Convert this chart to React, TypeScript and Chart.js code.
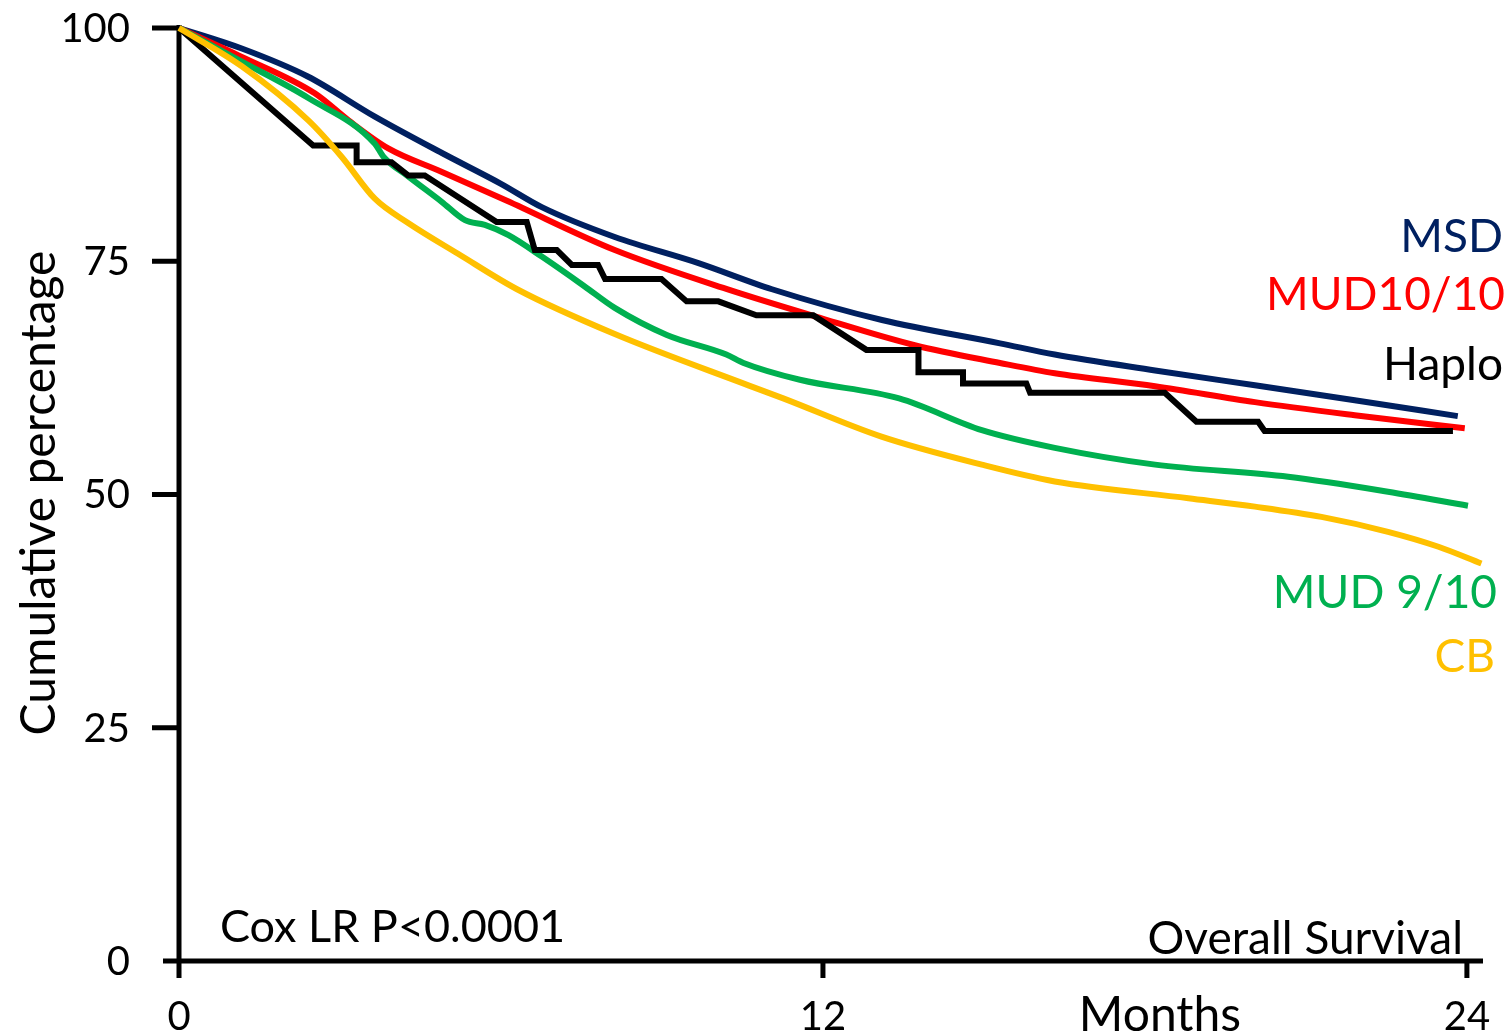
import { useEffect, useRef } from "react";
import { Chart, registerables } from "chart.js";

Chart.register(...registerables);

// Overall survival by donor type (months vs cumulative percentage)
const msdMonths = [0, 1.17, 2.4, 3.65, 4.9, 6.0, 6.76, 8.12, 9.68, 11.05, 13.1, 15.3, 16.32, 18.19, 20.05, 21.91, 23.83];
const msdSurvival = [100, 97.8, 94.8, 90.5, 86.6, 83.3, 80.8, 77.6, 74.8, 72.0, 68.7, 66.2, 65.0, 63.3, 61.7, 60.1, 58.4];

const mud10Months = [0, 1.17, 2.53, 3.16, 3.9, 4.89, 6.1, 8.12, 10.27, 11.85, 13.71, 15.3, 16.32, 18.19, 20.05, 21.91, 23.96];
const mud10Survival = [100, 96.9, 93.0, 90.1, 87.1, 84.6, 81.5, 76.2, 71.9, 69.1, 66.0, 64.1, 63.0, 61.6, 59.9, 58.5, 57.1];

const haploMonths = [0, 2.5, 3.31, 3.31, 3.96, 4.27, 4.58, 5.92, 6.48, 6.63, 7.04, 7.32, 7.81, 7.94, 8.99, 9.46, 10.05, 10.76, 11.82, 12.81, 13.78, 13.78, 14.61, 14.61, 15.79, 15.86, 18.37, 18.96, 20.11, 20.23, 23.74];
const haploSurvival = [100, 87.4, 87.4, 85.6, 85.6, 84.2, 84.2, 79.2, 79.2, 76.2, 76.2, 74.6, 74.6, 73.1, 73.1, 70.7, 70.7, 69.2, 69.2, 65.5, 65.5, 63.1, 63.1, 61.9, 61.9, 60.9, 60.9, 57.8, 57.8, 56.8, 56.8];

const mud9Months = [0, 1.17, 2.41, 3.65, 3.81, 4.27, 4.89, 5.33, 5.7, 6.14, 6.76, 7.56, 8.12, 9.09, 10.2, 10.52, 11.57, 13.42, 14.96, 16.32, 18.19, 20.67, 22.53, 24.02];
const mud9Survival = [100, 96.4, 92.5, 87.6, 86.2, 84.1, 81.4, 79.4, 78.9, 77.8, 75.5, 72.3, 70.0, 67.1, 65.0, 64.1, 62.3, 60.3, 56.9, 55.0, 53.2, 51.9, 50.3, 48.8];

const cbMonths = [0, 1.17, 2.41, 3.03, 3.65, 4.27, 5.2, 6.3, 8.12, 10.61, 11.26, 13.09, 14.96, 16.32, 18.81, 20.05, 21.29, 22.53, 23.47, 24.27];
const cbSurvival = [100, 95.9, 90.1, 86.2, 81.7, 79.1, 75.8, 72.0, 67.2, 61.7, 60.3, 56.2, 53.2, 51.4, 49.6, 48.7, 47.6, 46.0, 44.4, 42.6];

const yTickValues = [0, 25, 50, 75, 100];
const xTickValues = [0, 12, 24];
const seriesLabels = ["MSD", "MUD10/10", "Haplo", "MUD 9/10", "CB"];
const seriesColors = ["#002060", "#FF0000", "#000000", "#00B050", "#FFC000"];

const FONT = "Lato, 'Open Sans', sans-serif";

const toPoints = (xs: number[], ys: number[]) => xs.map((x, i) => ({ x, y: ys[i] }));

const axesPlugin = {
  id: "kmAxes",
  beforeDatasetsDraw(chart: any) {
    const { ctx, scales } = chart;
    const xs = scales.x;
    const ys = scales.y;
    const x0 = xs.getPixelForValue(0);
    const y0 = ys.getPixelForValue(0);
    const yTop = ys.getPixelForValue(100);
    ctx.save();
    ctx.strokeStyle = "#000";
    ctx.lineWidth = 5;
    ctx.lineCap = "butt";
    ctx.beginPath();
    ctx.moveTo(x0, yTop - 3);
    ctx.lineTo(x0, y0 + 17);
    ctx.moveTo(x0 - 16, y0);
    ctx.lineTo(chart.chartArea.right, y0);
    yTickValues.forEach((v) => {
      if (v === 0) return;
      const py = ys.getPixelForValue(v);
      ctx.moveTo(x0 - 27, py);
      ctx.lineTo(x0, py);
    });
    xTickValues.forEach((v) => {
      const px = xs.getPixelForValue(v);
      ctx.moveTo(px, y0);
      ctx.lineTo(px, y0 + 17);
    });
    ctx.stroke();
    ctx.restore();
  },
  afterDraw(chart: any) {
    const { ctx, scales } = chart;
    const xs = scales.x;
    const ys = scales.y;
    const y0 = ys.getPixelForValue(0);
    ctx.save();
    ctx.fillStyle = "#000";

    // y tick labels
    ctx.font = `40px ${FONT}`;
    ctx.textAlign = "right";
    ctx.textBaseline = "middle";
    yTickValues.forEach((v) => {
      ctx.fillText(String(v), 130, ys.getPixelForValue(v) + 1);
    });

    // x tick labels
    ctx.textAlign = "center";
    xTickValues.forEach((v) => {
      ctx.fillText(String(v), xs.getPixelForValue(v), y0 + 56);
    });

    // axis titles and notes
    ctx.textBaseline = "alphabetic";
    ctx.font = `48px ${FONT}`;
    ctx.textAlign = "center";
    ctx.fillText("Months", 1160, y0 + 70);
    ctx.font = `46px ${FONT}`;
    ctx.textAlign = "right";
    ctx.fillText("Overall Survival", 1463, y0 - 7);
    ctx.font = `45px ${FONT}`;
    ctx.textAlign = "left";
    ctx.fillText("Cox LR P<0.0001", 220, y0 - 19);

    ctx.save();
    ctx.font = `48px ${FONT}`;
    ctx.translate(55, 493);
    ctx.rotate(-Math.PI / 2);
    ctx.textAlign = "center";
    ctx.textBaseline = "alphabetic";
    ctx.fillText("Cumulative percentage", 0, 0);
    ctx.restore();

    // series labels at the right
    const labelPos = [
      [1503, 252],
      [1505, 310],
      [1503, 380],
      [1497, 608],
      [1495, 672],
    ];
    ctx.font = `46px ${FONT}`;
    ctx.textAlign = "right";
    seriesLabels.forEach((name, i) => {
      ctx.fillStyle = seriesColors[i];
      ctx.fillText(name, labelPos[i][0], labelPos[i][1]);
    });
    ctx.restore();
  },
};

export default function App() {
  const canvasRef = useRef<HTMLCanvasElement | null>(null);

  useEffect(() => {
    let chart: Chart | null = null;
    let cancelled = false;
    const build = () => {
      if (cancelled || !canvasRef.current) return;
      const smooth = { tension: 0.4, cubicInterpolationMode: "monotone" as const };
      chart = new Chart(canvasRef.current, {
        type: "line",
        data: {
          datasets: [
            { label: seriesLabels[4], data: toPoints(cbMonths, cbSurvival), borderColor: seriesColors[4], order: 1, ...smooth },
            { label: seriesLabels[2], data: toPoints(haploMonths, haploSurvival), borderColor: seriesColors[2], order: 2, tension: 0 },
            { label: seriesLabels[3], data: toPoints(mud9Months, mud9Survival), borderColor: seriesColors[3], order: 3, ...smooth },
            { label: seriesLabels[1], data: toPoints(mud10Months, mud10Survival), borderColor: seriesColors[1], order: 4, ...smooth },
            { label: seriesLabels[0], data: toPoints(msdMonths, msdSurvival), borderColor: seriesColors[0], order: 5, ...smooth },
          ].map((d) => ({
            ...d,
            borderWidth: 6,
            pointRadius: 0,
            fill: false,
            clip: false as any,
            borderJoinStyle: "miter" as const,
          })),
        },
        options: {
          responsive: false,
          animation: false,
          layout: { padding: { left: 179, right: 29, top: 28, bottom: 75 } },
          plugins: { legend: { display: false }, tooltip: { enabled: false } },
          scales: {
            x: { type: "linear", min: 0, max: 24.3, display: false },
            y: { type: "linear", min: 0, max: 100, display: false },
          },
        },
        plugins: [axesPlugin],
      });
    };
    const fonts = (document as any).fonts;
    if (fonts && fonts.load) {
      Promise.all([fonts.load(`40px Lato`), fonts.load(`46px Lato`)]).then(build, build);
    } else {
      build();
    }
    return () => {
      cancelled = true;
      if (chart) chart.destroy();
    };
  }, []);

  return (
    <div style={{ position: "absolute", left: 0, top: 0, width: 1512, height: 1036, background: "#fff" }}>
      <canvas ref={canvasRef} width={1512} height={1036} />
    </div>
  );
}
